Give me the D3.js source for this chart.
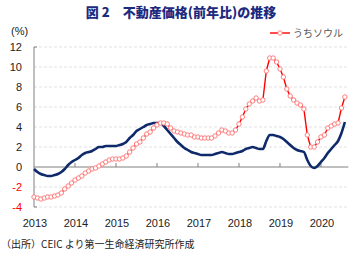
<!DOCTYPE html>
<html><head><meta charset="utf-8">
<script src="https://cdn.jsdelivr.net/npm/d3@7"></script>
<style>body{margin:0;background:#fff}svg{display:block}</style>
</head><body>
<svg id="c" width="359" height="261"></svg>
<script>
const startYear = 2013;
const yearLabels = ["2013","2014","2015","2016","2017","2018","2019","2020"];
const yTicks = [-4,-2,0,2,4,6,8,10,12];
// monthly YoY %, Jan 2013 onward
const nationalValues = [-0.2,-0.5,-0.7,-0.8,-0.9,-0.9,-0.8,-0.7,-0.5,-0.2,0.2,0.5,
 0.7,0.9,1.2,1.4,1.5,1.6,1.8,2.0,2.0,2.1,2.1,2.1,
 2.1,2.2,2.3,2.5,2.9,3.2,3.6,3.8,4.0,4.2,4.3,4.4,
 4.4,4.4,4.1,3.7,3.3,2.9,2.5,2.2,1.9,1.7,1.5,1.4,
 1.3,1.2,1.2,1.2,1.2,1.3,1.4,1.5,1.4,1.3,1.3,1.4,
 1.5,1.6,1.8,1.9,2.0,1.9,1.8,1.8,2.6,3.2,3.2,3.1,
 3.0,2.8,2.5,2.2,1.9,1.7,1.6,1.5,0.7,0.1,-0.1,0.1,
 0.5,0.9,1.4,1.8,2.2,2.6,3.4,4.5];
const seoulValues = [-3.0,-3.1,-3.2,-3.1,-3.0,-3.0,-2.9,-2.8,-2.6,-2.2,-1.9,-1.6,
 -1.3,-1.1,-0.9,-0.6,-0.4,-0.2,-0.1,0.1,0.3,0.5,0.7,0.8,
 0.8,0.8,0.9,1.1,1.5,1.9,2.3,2.5,2.9,3.3,3.5,3.9,
 4.2,4.4,4.4,4.3,3.9,3.6,3.5,3.4,3.3,3.2,3.2,3.0,
 3.0,2.9,2.9,2.9,2.9,3.1,3.4,3.7,3.6,3.4,3.4,3.7,
 4.3,5.0,5.8,6.3,6.6,6.9,6.6,6.7,9.6,10.9,10.9,10.5,
 9.8,9.0,7.8,7.1,6.7,6.4,6.2,5.8,3.2,2.0,2.0,2.5,
 3.0,3.2,3.9,4.1,4.3,4.4,5.9,7.0];
const seriesName = "うちソウル";
const title = "図 2　不動産価格(前年比)の推移";
const source = "（出所）CEIC より第一生命経済研究所作成";

const svg = d3.select("#c");
const jp = "'Noto Sans CJK JP', sans-serif";
const num = "'Liberation Sans', Arial, sans-serif";
const x = d3.scaleLinear().domain([0, 92]).range([34, 348.3]);
const y = d3.scaleLinear().domain([-4, 12]).range([207, 47]);

// title
svg.append("text").attr("x", 181).attr("y", 17).attr("text-anchor","middle")
  .attr("font-family", jp).attr("font-weight","900").attr("font-size", 13)
  .attr("fill","#1c2a80").text(title);

// grid
svg.append("g").selectAll("line").data(yTicks.filter(d=>d!==0)).join("line")
  .attr("x1", x(0)).attr("x2", x(92)).attr("y1", d=>y(d)).attr("y2", d=>y(d))
  .attr("stroke","#d9d9d9").attr("stroke-width",0.8).attr("stroke-dasharray","3,2");

// y axis
svg.append("line").attr("x1",34).attr("x2",34).attr("y1",y(12)).attr("y2",y(-4))
  .attr("stroke","#808080").attr("stroke-width",1);
svg.append("g").selectAll("line").data([12,-4]).join("line")
  .attr("x1",34).attr("x2",37).attr("y1",d=>y(d)).attr("y2",d=>y(d))
  .attr("stroke","#808080");
svg.append("g").selectAll("text").data(yTicks).join("text")
  .attr("x",22).attr("y",d=>y(d)+4).attr("text-anchor","end")
  .attr("font-family",num).attr("font-size",11)
  .attr("fill",d=>d<0?"#ff0000":"#222").text(d=>d);
svg.append("text").attr("x",11).attr("y",35).attr("font-family",num).attr("font-size",11)
  .attr("fill","#222").text("(%)");

// x axis on zero
svg.append("line").attr("x1",x(0)).attr("x2",x(92)).attr("y1",y(0)).attr("y2",y(0))
  .attr("stroke","#808080").attr("stroke-width",1);
svg.append("g").selectAll("line").data(yearLabels.map((d,i)=>i*12).filter(d=>d>0)).join("line")
  .attr("x1",d=>x(d)).attr("x2",d=>x(d)).attr("y1",y(0)-4).attr("y2",y(0))
  .attr("stroke","#808080");
svg.append("g").selectAll("text").data(yearLabels).join("text")
  .attr("x",(d,i)=>x(i*12)+1).attr("y",227).attr("text-anchor","middle")
  .attr("font-family",num).attr("font-size",11).attr("fill","#222").text(d=>d);

// national line
const line = d3.line().x((d,i)=>x(i)).y(d=>y(d)).curve(d3.curveMonotoneX);
svg.append("path").datum(nationalValues).attr("d",line).attr("fill","none")
  .attr("stroke","#0f2a6b").attr("stroke-width",2.6).attr("stroke-linejoin","round");

// seoul line
const line2 = d3.line().x((d,i)=>x(i)).y(d=>y(d));
svg.append("path").datum(seoulValues).attr("d",line2).attr("fill","none")
  .attr("stroke","#ff0000").attr("stroke-width",1.4);
svg.append("g").selectAll("circle").data(seoulValues).join("circle")
  .attr("cx",(d,i)=>x(i)).attr("cy",d=>y(d)).attr("r",2.2)
  .attr("fill","#fff").attr("stroke","#ff7070").attr("stroke-width",0.9);

// legend
svg.append("line").attr("x1",270).attr("x2",290).attr("y1",33).attr("y2",33)
  .attr("stroke","#ff0000").attr("stroke-width",1.4);
svg.append("circle").attr("cx",280).attr("cy",33).attr("r",2.2)
  .attr("fill","#fff").attr("stroke","#ff7070").attr("stroke-width",0.9);
svg.append("text").attr("x",293).attr("y",37).attr("font-family",jp).attr("font-size",10)
  .attr("fill","#555").text(seriesName);

// source
svg.append("text").attr("x",1).attr("y",248).attr("font-family",jp).attr("font-size",10)
  .attr("fill","#222").text(source);
</script>
</body></html>
